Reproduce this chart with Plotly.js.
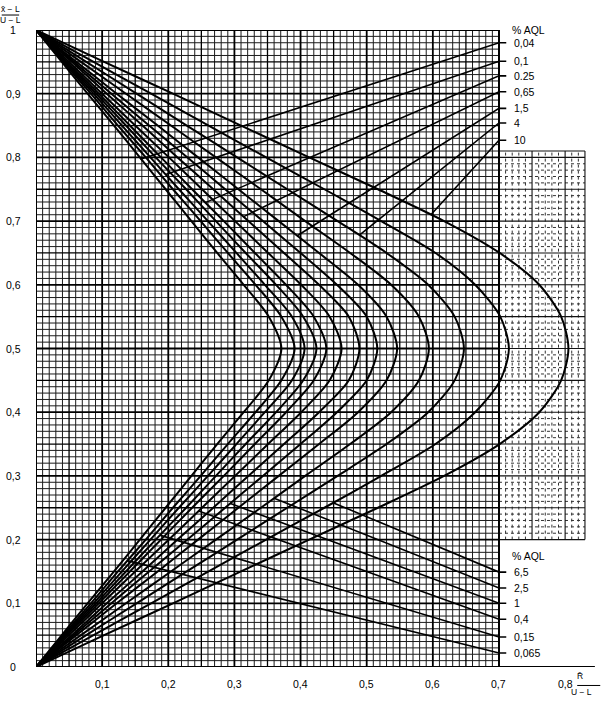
<!DOCTYPE html>
<html><head><meta charset="utf-8">
<script src="https://cdn.plot.ly/plotly-3.0.1.min.js"></script>
<style>html,body{margin:0;padding:0;background:#fff}#chart{width:604px;height:701px}</style>
</head><body><div id="chart"></div>
<script>
// ---- data ----
const yLevels = [0,0.05,0.1,0.15,0.2,0.25,0.3,0.35,0.4,0.45,0.5,0.55,0.6,0.65,0.7,0.75,0.8,0.85,0.9,0.95,1];
const xAQL_0_04  = [0,0.039,0.078,0.118,0.157,0.196,0.235,0.274,0.314,0.352,0.371,0.352,0.314,0.274,0.235,0.196,0.157,0.118,0.078,0.039,0];
const xAQL_0_065 = [0,0.041,0.083,0.124,0.166,0.207,0.249,0.290,0.332,0.371,0.391,0.371,0.332,0.290,0.249,0.207,0.166,0.124,0.083,0.041,0];
const xAQL_0_1   = [0,0.043,0.087,0.130,0.173,0.216,0.260,0.303,0.346,0.387,0.406,0.387,0.346,0.303,0.260,0.216,0.173,0.130,0.087,0.043,0];
const xAQL_0_15  = [0,0.045,0.091,0.136,0.181,0.227,0.272,0.317,0.363,0.404,0.424,0.404,0.363,0.317,0.272,0.227,0.181,0.136,0.091,0.045,0];
const xAQL_0_25  = [0,0.047,0.095,0.142,0.189,0.236,0.284,0.331,0.378,0.420,0.439,0.420,0.378,0.331,0.284,0.236,0.189,0.142,0.095,0.047,0];
const xAQL_0_4   = [0,0.050,0.100,0.150,0.201,0.251,0.301,0.351,0.401,0.444,0.462,0.444,0.401,0.351,0.301,0.251,0.201,0.150,0.100,0.050,0];
const xAQL_0_65  = [0,0.054,0.107,0.161,0.214,0.268,0.321,0.375,0.428,0.473,0.489,0.473,0.428,0.375,0.321,0.268,0.214,0.161,0.107,0.054,0];
const xAQL_1     = [0,0.057,0.114,0.171,0.229,0.286,0.343,0.400,0.455,0.500,0.516,0.500,0.455,0.400,0.343,0.286,0.229,0.171,0.114,0.057,0];
const xAQL_1_5   = [0,0.061,0.122,0.184,0.245,0.306,0.367,0.428,0.487,0.530,0.546,0.530,0.487,0.428,0.367,0.306,0.245,0.184,0.122,0.061,0];
const xAQL_2_5   = [0,0.068,0.136,0.204,0.272,0.340,0.407,0.475,0.537,0.579,0.594,0.579,0.537,0.475,0.407,0.340,0.272,0.204,0.136,0.068,0];
const xAQL_4     = [0,0.076,0.152,0.228,0.304,0.380,0.456,0.530,0.593,0.633,0.647,0.633,0.593,0.530,0.456,0.380,0.304,0.228,0.152,0.076,0];
const xAQL_6_5   = [0,0.087,0.174,0.261,0.348,0.436,0.522,0.604,0.664,0.702,0.715,0.702,0.664,0.604,0.522,0.436,0.348,0.261,0.174,0.087,0];
const xAQL_10    = [0,0.103,0.207,0.310,0.413,0.517,0.617,0.701,0.761,0.794,0.805,0.794,0.761,0.701,0.617,0.517,0.413,0.310,0.207,0.103,0];

const upperLabels = ['0,04','0,1','0.25','0,65','1,5','4','10'];
const upperLabelY = [0.980,0.951,0.928,0.903,0.877,0.854,0.827];
const upperStartX = [0.158,0.196,0.256,0.314,0.395,0.489,0.597];
const upperStartY = [0.797,0.773,0.729,0.707,0.677,0.678,0.710];

const lowerLabels = ['6,5','2,5','1','0,4','0,15','0,065'];
const lowerLabelY = [0.149,0.124,0.100,0.075,0.047,0.022];
const lowerStartX = [0.449,0.360,0.293,0.246,0.187,0.138];
const lowerStartY = [0.258,0.265,0.257,0.245,0.207,0.167];

const xTickVals = [0.1,0.2,0.3,0.4,0.5,0.6,0.7,0.8];
const xTickText = ['0,1','0,2','0,3','0,4','0,5','0,6','0,7','0,8'];
const yTickVals = [0,0.1,0.2,0.3,0.4,0.5,0.6,0.7,0.8,0.9,1];
const yTickText = ['0','0,1','0,2','0,3','0,4','0,5','0,6','0,7','0,8','0,9','1'];

// ---- chart construction ----
const curves = [xAQL_0_04,xAQL_0_065,xAQL_0_1,xAQL_0_15,xAQL_0_25,xAQL_0_4,xAQL_0_65,xAQL_1,xAQL_1_5,xAQL_2_5,xAQL_4,xAQL_6_5,xAQL_10];
const PANEL_X = 0.7, EXT_X = 0.83, EXT_Y0 = 0.2, EXT_Y1 = 0.81, TICK_END = 0.711, LABEL_X = 0.72;

function seg(store, x0, y0, x1, y1){ store.x.push(x0, x1, null); store.y.push(y0, y1, null); }
const gMajor = {x:[],y:[]}, gMid = {x:[],y:[]}, gMinor = {x:[],y:[]};
const eSolid = {x:[],y:[]}, eDot = {x:[],y:[]};
function pick(k){ return k % 10 === 0 ? gMajor : (k % 5 === 0 ? gMid : gMinor); }
for (let i = 0; i <= 70; i++) seg(pick(i), i/100, 0, i/100, 1);
for (let j = 0; j <= 100; j++) seg(pick(j), 0, j/100, PANEL_X, j/100);
for (let i = 71; i <= 83; i++) seg(i % 5 === 0 || i === 83 ? eSolid : eDot, i/100, EXT_Y0, i/100, EXT_Y1);
for (let j = 20; j <= 81; j++) seg(j % 5 === 0 || j === 81 ? eSolid : eDot, PANEL_X, j/100, EXT_X, j/100);

function gridTrace(g, w, c, dash){
  return {x:g.x, y:g.y, mode:'lines', type:'scatter', hoverinfo:'skip', showlegend:false,
          line:{color:c, width:w, dash:dash||'solid'}, connectgaps:false};
}
const traces = [
  gridTrace(gMinor, 1.0, '#1c1c1c'),
  gridTrace(gMid, 1.3, '#000'),
  gridTrace(gMajor, 1.8, '#000'),
  gridTrace(eDot, 1.0, '#333', 'dot'),
  gridTrace(eSolid, 1.1, '#111'),
];
curves.forEach(cx => traces.push({x:cx, y:yLevels, mode:'lines', type:'scatter', showlegend:false,
  hoverinfo:'skip', line:{color:'#000', width:2, shape:'spline', smoothing:0.8}}));
upperLabels.forEach((t,k) => traces.push({x:[upperStartX[k], PANEL_X, TICK_END], y:[upperStartY[k], upperLabelY[k], upperLabelY[k]],
  mode:'lines', type:'scatter', showlegend:false, hoverinfo:'skip', line:{color:'#000', width:1.6}}));
lowerLabels.forEach((t,k) => traces.push({x:[lowerStartX[k], PANEL_X, TICK_END], y:[lowerStartY[k], lowerLabelY[k], lowerLabelY[k]],
  mode:'lines', type:'scatter', showlegend:false, hoverinfo:'skip', line:{color:'#000', width:1.6}}));

const FONT = {family:'Liberation Sans, Arial, sans-serif', size:10.5, color:'#000'};
const ann = [];
upperLabels.forEach((t,k) => ann.push({x:LABEL_X, y:upperLabelY[k], xref:'x', yref:'y', text:t, showarrow:false, xanchor:'left', yanchor:'middle', font:FONT}));
lowerLabels.forEach((t,k) => ann.push({x:LABEL_X, y:lowerLabelY[k], xref:'x', yref:'y', text:t, showarrow:false, xanchor:'left', yanchor:'middle', font:FONT}));
ann.push({x:LABEL_X-0.004, y:1.0, xref:'x', yref:'y', text:'% AQL', showarrow:false, xanchor:'left', yanchor:'middle', font:FONT});
ann.push({x:LABEL_X-0.004, y:0.174, xref:'x', yref:'y', text:'% AQL', showarrow:false, xanchor:'left', yanchor:'middle', font:FONT});
xTickVals.forEach((v,k) => ann.push({x:v, y:0, xref:'x', yref:'paper', yshift:-17, text:xTickText[k], showarrow:false, xanchor:'center', yanchor:'middle', font:FONT}));
yTickVals.forEach((v,k) => ann.push({x:0, y:v, xref:'paper', yref:'y', xshift:-23, text:yTickText[k], showarrow:false, xanchor:'center', yanchor:'middle', font:FONT}));
// axis titles (fractions)
const TFONT = {family:'Liberation Sans, Arial, sans-serif', size:8.5, color:'#000'};
ann.push({x:0, y:1, xref:'paper', yref:'paper', xshift:-26, yshift:21, text:'x\u0304 \u2212 L', showarrow:false, xanchor:'center', yanchor:'middle', font:TFONT});
ann.push({x:0, y:1, xref:'paper', yref:'paper', xshift:-26, yshift:10, text:'U \u2212 L', showarrow:false, xanchor:'center', yanchor:'middle', font:TFONT});
ann.push({x:1, y:0, xref:'paper', yref:'paper', xshift:-18, yshift:-9, text:'R\u0304', showarrow:false, xanchor:'center', yanchor:'middle', font:TFONT});
ann.push({x:1, y:0, xref:'paper', yref:'paper', xshift:-17, yshift:-25, text:'U \u2212 L', showarrow:false, xanchor:'center', yanchor:'middle', font:TFONT});

const shapes = [
  {type:'line', xref:'x', yref:'y', x0:0, x1:0.845, y0:0, y1:0, line:{color:'#000', width:2}},
  {type:'line', xref:'x', yref:'y', x0:0, x1:0, y0:0, y1:1, line:{color:'#000', width:2}},
  {type:'line', xref:'x', yref:'y', x0:0, x1:PANEL_X, y0:1, y1:1, line:{color:'#000', width:2}},
  {type:'line', xref:'x', yref:'y', x0:PANEL_X, x1:PANEL_X, y0:0, y1:1, line:{color:'#000', width:1.8}},
  {type:'line', xref:'paper', yref:'paper', x0:-0.061, x1:-0.03, y0:1.0235, y1:1.0235, line:{color:'#000', width:1}},
  {type:'line', xref:'paper', yref:'paper', x0:0.963, x1:1.004, y0:-0.029, y1:-0.029, line:{color:'#000', width:1}},
];

const layout = {
  width:604, height:701, margin:{l:36, r:6, t:30, b:34, pad:0},
  paper_bgcolor:'#fff', plot_bgcolor:'#fff', showlegend:false,
  xaxis:{range:[0, 562/661.4], showgrid:false, zeroline:false, showline:false, showticklabels:false, ticks:'', fixedrange:true, automargin:false},
  yaxis:{range:[0,1], showgrid:false, zeroline:false, showline:false, showticklabels:false, ticks:'', fixedrange:true, automargin:false},
  annotations:ann, shapes:shapes,
};
Plotly.newPlot('chart', traces, layout, {displayModeBar:false, staticPlot:true});
</script></body></html>
